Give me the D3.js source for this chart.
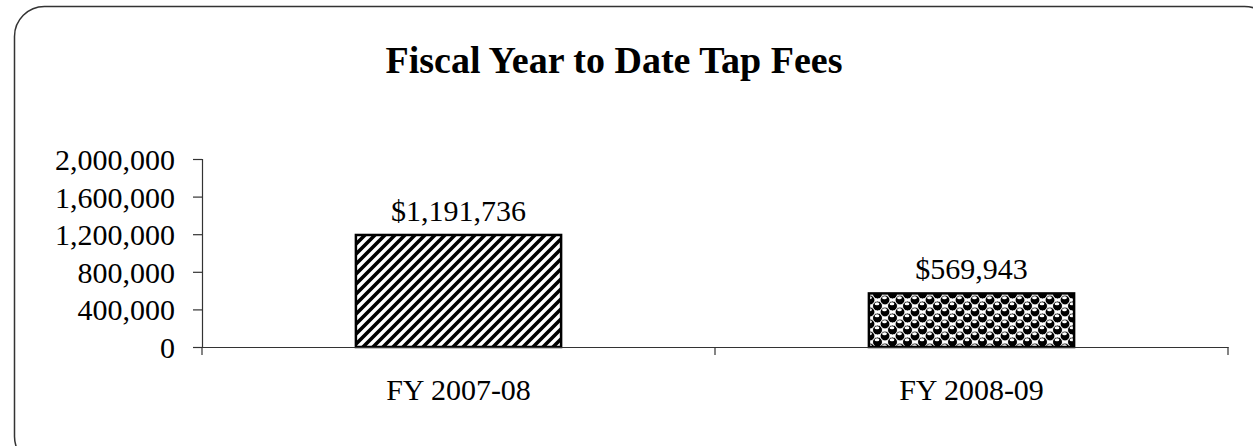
<html>
<script src="https://d3js.org/d3.v7.min.js"></script>
<style>
body {margin:0; background:white;}
text {font-family: "Liberation Serif", "Times New Roman", serif; fill:black;}
</style>
<body>
<svg width="1253" height="446"></svg>
<script>
var categories = ["FY 2007-08", "FY 2008-09"];
var values = [1191736, 569943];
var valueLabels = ["$1,191,736", "$569,943"];
var yTicks = [0, 400000, 800000, 1200000, 1600000, 2000000];

var svg = d3.select("svg");

// frame
svg.append("rect")
  .attr("x", 14.5).attr("y", 6.5)
  .attr("width", 1260).attr("height", 460)
  .attr("rx", 30).attr("ry", 30)
  .attr("fill", "white")
  .attr("stroke", "#333").attr("stroke-width", 1.5);

var defs = svg.append("defs");

// diagonal hatch
var hatch = defs.append("pattern")
  .attr("id", "hatch")
  .attr("patternUnits", "userSpaceOnUse")
  .attr("width", 10).attr("height", 10);
hatch.append("rect").attr("width", 10).attr("height", 10).attr("fill", "white");
hatch.append("path")
  .attr("d", "M-2.5,2.5 L2.5,-2.5 M0,10 L10,0 M7.5,12.5 L12.5,7.5")
  .attr("stroke", "black").attr("stroke-width", 3.6);

// sphere dots
var dots = defs.append("pattern")
  .attr("id", "dots")
  .attr("patternUnits", "userSpaceOnUse")
  .attr("width", 15).attr("height", 12);
dots.append("rect").attr("width", 15).attr("height", 12).attr("fill", "white");
[[0,0],[15,0],[0,12],[15,12],[7.5,6]].forEach(function(p) {
  dots.append("circle").attr("cx", p[0]).attr("cy", p[1]).attr("r", 5)
    .attr("fill", "black").attr("stroke", "white").attr("stroke-width", 1);
  dots.append("ellipse").attr("cx", p[0] - 0.5).attr("cy", p[1] - 2.2)
    .attr("rx", 2.4).attr("ry", 1.5).attr("fill", "white");
});

var fills = ["url(#hatch)", "url(#dots)"];

var x = d3.scaleBand().domain(categories).range([202, 1228])
  .paddingInner(0.6).paddingOuter(0.3);
var xc = d3.scaleBand().domain(categories).range([202, 1228]);
var y = d3.scaleLinear().domain([0, 2000000]).range([347, 159]);

// y axis
var yAxis = svg.append("g")
  .attr("transform", "translate(202,0)")
  .call(d3.axisLeft(y).tickValues(yTicks).tickSize(9).tickPadding(18)
    .tickFormat(d3.format(",")));
yAxis.select(".domain").attr("stroke", "#333").attr("stroke-width", 1.2);
yAxis.selectAll(".tick line").attr("stroke", "#333").attr("stroke-width", 1.2);
yAxis.selectAll("text")
  .style("font-family", "Liberation Serif").style("font-size", "30px")
  .attr("dy", "0.35em").attr("fill", "black");

// bars
svg.selectAll(".bar")
  .data(values)
  .enter().append("rect")
  .attr("class", "bar")
  .attr("x", function(d, i) { return x(categories[i]); })
  .attr("y", function(d) { return y(d); })
  .attr("width", x.bandwidth())
  .attr("height", function(d) { return y(0) - y(d); })
  .attr("fill", function(d, i) { return fills[i]; })
  .attr("stroke", "black").attr("stroke-width", 2.5);

// x axis
var xAxis = svg.append("g")
  .attr("transform", "translate(0," + y(0) + ")")
  .call(d3.axisBottom(xc).tickSize(0).tickPadding(32));
xAxis.select(".domain").attr("stroke", "#333").attr("stroke-width", 1.2);
xAxis.selectAll("text")
  .style("font-family", "Liberation Serif").style("font-size", "30px")
  .attr("fill", "black");
[202, 715, 1228].forEach(function(px) {
  xAxis.append("line").attr("x1", px).attr("x2", px).attr("y1", 0).attr("y2", 8)
    .attr("stroke", "#333").attr("stroke-width", 1.2);
});

// value labels
svg.selectAll(".vlab")
  .data(values)
  .enter().append("text")
  .attr("class", "vlab")
  .attr("x", function(d, i) { return x(categories[i]) + x.bandwidth() / 2; })
  .attr("y", function(d) { return y(d) - 14; })
  .attr("text-anchor", "middle")
  .style("font-size", "30px")
  .text(function(d, i) { return valueLabels[i]; });

// title
svg.append("text")
  .attr("x", 614).attr("y", 73)
  .attr("text-anchor", "middle")
  .style("font-size", "38px").style("font-weight", "bold")
  .text("Fiscal Year to Date Tap Fees");
</script>
</body>
</html>
